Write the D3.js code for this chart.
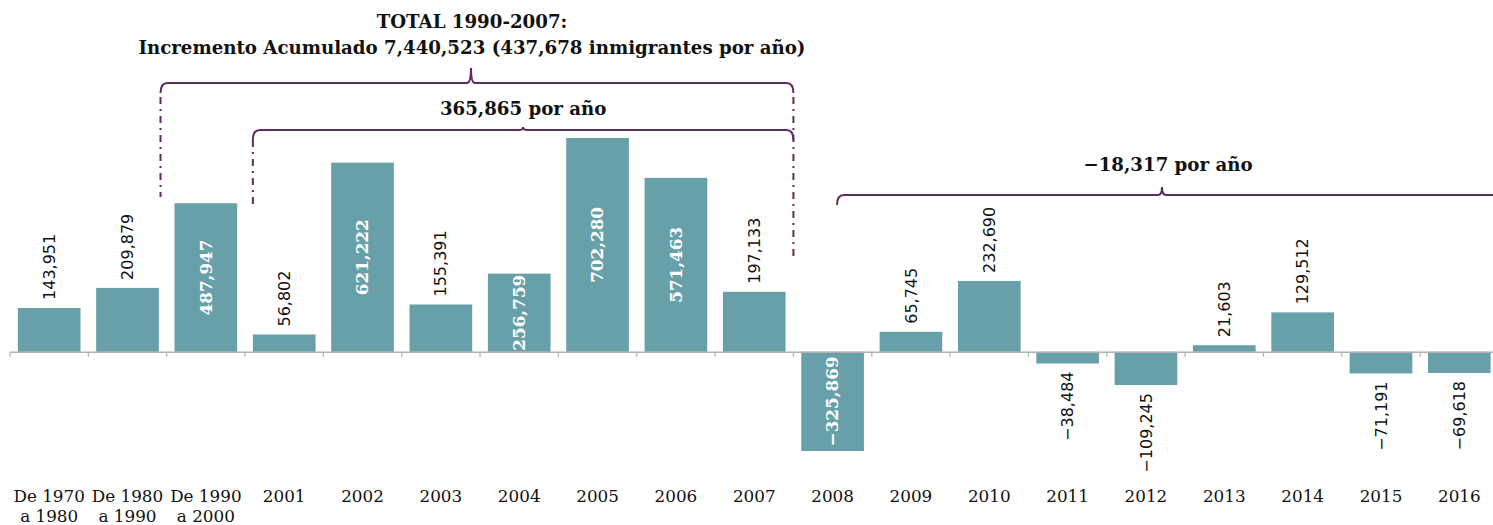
<!DOCTYPE html>
<html>
<head>
<meta charset="utf-8">
<script src="https://cdn.jsdelivr.net/npm/d3@7"></script>
<style>
  body { margin: 0; background: #fff; }
  svg { display: block; }
</style>
</head>
<body>
<script>
const categories = ['De 1970 a 1980', 'De 1980 a 1990', 'De 1990 a 2000', '2001', '2002', '2003', '2004',
    '2005', '2006', '2007', '2008', '2009', '2010', '2011', '2012', '2013', '2014', '2015', '2016'];
const values = [143951, 209879, 487947, 56802, 621222, 155391, 256759, 702280, 571463, 197133,
    -325869, 65745, 232690, -38484, -109245, 21603, 129512, -71191, -69618];
const titleLines = ['TOTAL 1990-2007:', 'Incremento Acumulado 7,440,523 (437,678 inmigrantes por año)'];
const periodLabels = ['365,865 por año', '−18,317 por año'];

let width = 1493, height = 525;
let barColor = '#68a0aa';
let purple = '#5e2b60';

let svg = d3.select('body').append('svg')
    .attr('width', width)
    .attr('height', height);

let x = d3.scaleBand().domain(categories).range([10, 1498.5]).paddingInner(0.2).paddingOuter(0.1);
let y = d3.scaleLinear().domain([d3.min(values), d3.max(values)]).range([451, 138]);
let data = categories.map((c, i) => ({ cat: c, value: values[i] }));
let fmt = d3.format(',');

// bars
svg.append('g').selectAll('rect')
    .data(data)
    .enter()
    .append('rect')
    .attr('x', d => x(d.cat))
    .attr('width', x.bandwidth())
    .attr('y', d => y(Math.max(0, d.value)))
    .attr('height', d => Math.abs(y(d.value) - y(0)))
    .attr('fill', barColor);

// axis with ticks between bars
let axis = d3.axisBottom(x).tickSize(5).tickSizeOuter(0).tickFormat('');
let axisGroup = svg.append('g')
    .attr('transform', `translate(0, ${y(0)})`)
    .call(axis);
axisGroup.select('.domain').attr('stroke', '#b0b0b0').attr('stroke-width', 1.5);
axisGroup.selectAll('.tick line')
    .attr('stroke', '#b0b0b0')
    .attr('stroke-width', 1.2)
    .attr('transform', `translate(${-x.step() / 2}, 0)`);

// category labels
let catText = svg.append('g').selectAll('text')
    .data(data)
    .enter()
    .append('text')
    .attr('x', d => x(d.cat) + x.bandwidth() / 2)
    .attr('y', 502)
    .attr('text-anchor', 'middle')
    .attr('font-family', 'DejaVu Serif')
    .attr('font-size', 16.8)
    .attr('fill', '#111');
catText.each(function (d) {
    let parts = d.cat.split(' a ');
    let t = d3.select(this);
    t.append('tspan').attr('x', x(d.cat) + x.bandwidth() / 2).text(parts[0]);
    if (parts.length > 1) {
        t.append('tspan').attr('x', x(d.cat) + x.bandwidth() / 2).attr('dy', 20).text('a ' + parts[1]);
    }
});

// value labels
let inside = d => Math.abs(d.value) > 250000;
svg.append('g').selectAll('text')
    .data(data)
    .enter()
    .append('text')
    .attr('transform', d => {
        let cx = x(d.cat) + x.bandwidth() / 2;
        let cy;
        if (inside(d)) cy = (y(d.value) + y(0)) / 2;
        else cy = d.value >= 0 ? y(d.value) - 8 : y(d.value) + 8;
        return `translate(${cx}, ${cy}) rotate(-90)`;
    })
    .attr('dy', '0.35em')
    .attr('text-anchor', d => inside(d) ? 'middle' : (d.value >= 0 ? 'start' : 'end'))
    .attr('font-family', d => inside(d) ? 'DejaVu Serif' : 'DejaVu Sans')
    .attr('font-weight', d => inside(d) ? 'bold' : 'normal')
    .attr('font-size', d => inside(d) ? 16.8 : 16)
    .attr('fill', d => inside(d) ? '#fff' : '#111')
    .text(d => fmt(d.value));

// brackets
let bracket = (x0, x1, y0, nub, curlRight, xm) => {
    let p = d3.path();
    p.moveTo(x0, y0 + 10);
    p.quadraticCurveTo(x0, y0, x0 + 7, y0);
    p.lineTo(xm - 4, y0);
    p.quadraticCurveTo(xm, y0, xm, y0 - nub);
    p.quadraticCurveTo(xm, y0, xm + 4, y0);
    if (curlRight) {
        p.lineTo(x1 - 7, y0);
        p.quadraticCurveTo(x1, y0, x1, y0 + 10);
    } else {
        p.lineTo(x1, y0);
    }
    svg.append('path')
        .attr('d', p.toString())
        .attr('fill', 'none')
        .attr('stroke', purple)
        .attr('stroke-width', 2);
    return xm;
};
let dashLine = (xv, y0, y1) => {
    svg.append('line')
        .attr('x1', xv).attr('x2', xv)
        .attr('y1', y0).attr('y2', y1)
        .attr('stroke', purple)
        .attr('stroke-width', 2)
        .attr('stroke-dasharray', '7,5,2,5');
};

let edge = c => x(c) - x.step() * x.paddingInner() / 2;
let bigLeft = x('De 1990 a 2000') - 14;
let endRight = edge('2008');
let midLeft = x('2001');
let lowLeft = x('2008') + x.bandwidth() * 0.57;

let bigMid = bracket(bigLeft, endRight, 83, 15, true, (bigLeft + endRight) / 2 - 6);
let midMid = bracket(midLeft, endRight, 130, 3, true, (midLeft + endRight) / 2);
let lowMid = bracket(lowLeft, width, 195, 8, false, (lowLeft + width) / 2 - 3);

dashLine(bigLeft, 97, 197);
dashLine(midLeft, 140, 205);
dashLine(endRight, 97, 258);

let boldText = (tx, ty, str) => svg.append('text')
    .attr('x', tx).attr('y', ty)
    .attr('text-anchor', 'middle')
    .attr('font-family', 'DejaVu Serif')
    .attr('font-weight', 'bold')
    .attr('font-size', 18.2)
    .attr('fill', '#111')
    .text(str);

boldText(bigMid + 1, 28, titleLines[0]);
boldText(bigMid + 1, 54, titleLines[1]);
boldText(midMid, 115, periodLabels[0]);
boldText(lowMid + 6, 171, periodLabels[1]);
</script>
</body>
</html>
